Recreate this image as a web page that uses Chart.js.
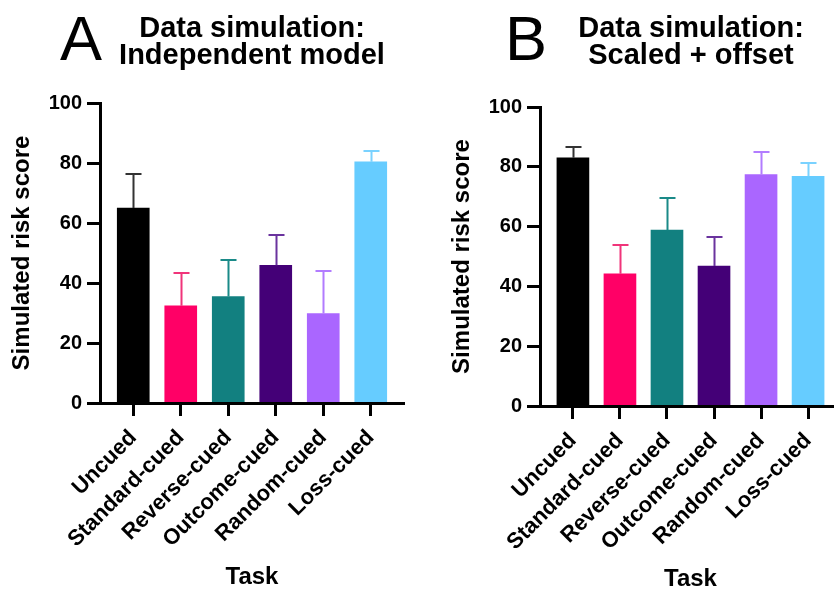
<!DOCTYPE html>
<html>
<head>
<meta charset="utf-8">
<title>Data simulation</title>
<script src="https://cdn.jsdelivr.net/npm/chart.js@4.4.1/dist/chart.umd.min.js"></script>
<style>
  html, body { margin: 0; padding: 0; background: #ffffff; overflow: hidden; }
  body { width: 834px; height: 592px; position: relative; }
  canvas { position: absolute; top: 0; }
  #panelA { left: 0; }
  #panelB { left: 417px; }
</style>
</head>
<body>
<canvas id="panelA" width="417" height="592"></canvas>
<canvas id="panelB" width="430" height="592"></canvas>
<script>
// Task conditions on the x axis
const tasks = ['Uncued', 'Standard-cued', 'Reverse-cued', 'Outcome-cued', 'Random-cued', 'Loss-cued'];

// Panel A: independent model (mean and upper error)
const independentMeans  = [65.0, 32.4, 35.5, 45.9, 29.8, 80.4];
const independentErrors = [11.2, 11.0, 12.3, 10.0, 14.3, 3.5];

// Panel B: scaled + offset model (mean and upper error)
const scaledMeans  = [83.0, 44.2, 58.8, 46.8, 77.4, 76.8];
const scaledErrors = [3.6, 9.5, 10.9, 9.8, 7.4, 4.6];

// Y axis ticks
const yTicks = [0, 20, 40, 60, 80, 100];

// One colour per task, plus a matching tone for its error bar
const barColors   = ['#000000', '#ff0066', '#128080', '#440077', '#aa66ff', '#66ccff'];
const errorColors = ['#333333', '#f0347a', '#1a8a88', '#6a339e', '#b27cff', '#7ad2ff'];

const FONT = "'Liberation Sans', Arial, Helvetica, sans-serif";

// Upward error whiskers with a cap, positioned through the chart's scales
const errorBars = {
  id: 'errorBars',
  afterDatasetsDraw(chart, args, opts) {
    const { ctx, scales: { x, y } } = chart;
    const data = chart.data.datasets[0].data;
    ctx.save();
    ctx.lineWidth = 2;
    data.forEach((pt, i) => {
      const px = Math.round(x.getPixelForValue(pt.x)) + 0.5;
      const base = y.getPixelForValue(pt.y);
      const top = Math.round(y.getPixelForValue(pt.y + opts.errors[i]));
      ctx.strokeStyle = opts.colors[i];
      ctx.beginPath();
      ctx.moveTo(px, base);
      ctx.lineTo(px, top);
      ctx.moveTo(px - 8, top);
      ctx.lineTo(px + 8, top);
      ctx.stroke();
    });
    ctx.restore();
  }
};

// Big panel letter next to a two-line bold heading
const panelHeading = {
  id: 'panelHeading',
  afterDraw(chart, args, opts) {
    const ctx = chart.ctx;
    ctx.save();
    ctx.fillStyle = '#000000';
    ctx.textBaseline = 'alphabetic';
    ctx.textAlign = 'left';
    ctx.font = `63px ${FONT}`;
    ctx.fillText(opts.letter, opts.letterX, 60);
    ctx.textAlign = 'center';
    ctx.font = `bold 29px ${FONT}`;
    opts.lines.forEach((line, i) => ctx.fillText(line, opts.centerX, 37 + i * 26.5));
    ctx.restore();
  }
};

function makePanel(canvasId, means, errors, heading, geom) {
  return new Chart(document.getElementById(canvasId), {
    type: 'bar',
    data: {
      datasets: [{
        data: tasks.map((t, i) => ({ x: i, y: means[i] })),
        backgroundColor: barColors,
        borderWidth: 0,
        barThickness: 32
      }]
    },
    options: {
      responsive: false,
      animation: false,
      events: [],
      layout: { padding: { top: geom.top, left: geom.left, right: geom.right, bottom: 0 } },
      plugins: {
        legend: { display: false },
        tooltip: { enabled: false },
        errorBars: { errors: errors, colors: errorColors },
        panelHeading: heading
      },
      scales: {
        x: {
          type: 'linear',
          min: -0.7,
          max: 5.7,
          offset: false,
          afterFit: s => { s.height = geom.xHeight; },
          afterBuildTicks: s => { s.ticks = tasks.map((t, i) => ({ value: i })); },
          grid: {
            display: true, offset: false, drawOnChartArea: false, drawTicks: true,
            tickLength: 13, tickWidth: 3, tickColor: '#000000'
          },
          border: { display: true, color: '#000000', width: 3, z: 1 },
          ticks: {
            autoSkip: false, minRotation: 45, maxRotation: 45, padding: 9,
            color: '#000000', font: { family: FONT, size: 22, weight: 'bold' },
            callback: v => tasks[v]
          },
          title: {
            display: true, text: 'Task', color: '#000000',
            font: { family: FONT, size: 24, weight: 'bold' },
            padding: { top: 4, bottom: geom.xTitlePad }
          }
        },
        y: {
          min: 0,
          max: 100,
          afterFit: s => { s.width = geom.yWidth; },
          afterBuildTicks: s => { s.ticks = yTicks.map(v => ({ value: v })); },
          grid: {
            display: true, drawOnChartArea: false, drawTicks: true,
            tickLength: 13, tickWidth: 3, tickColor: '#000000'
          },
          border: { display: true, color: '#000000', width: 3, z: 1 },
          ticks: {
            padding: 5, color: '#000000',
            font: { family: FONT, size: 20, weight: 'bold' }
          },
          title: {
            display: true, text: 'Simulated risk score', color: '#000000',
            font: { family: FONT, size: 24, weight: 'bold' },
            padding: { top: geom.yTitlePad, bottom: 4 }
          }
        }
      }
    },
    plugins: [errorBars, panelHeading]
  });
}

makePanel('panelA', independentMeans, independentErrors,
  { letter: 'A', letterX: 60, lines: ['Data simulation:', 'Independent model'], centerX: 252 },
  { top: 103, left: 0, right: 13, xHeight: 189, yWidth: 100, yTitlePad: 8, xTitlePad: 0 });

makePanel('panelB', scaledMeans, scaledErrors,
  { letter: 'B', letterX: 88, lines: ['Data simulation:', 'Scaled + offset'], centerX: 274 },
  { top: 107, left: 0, right: 6, xHeight: 186, yWidth: 123, yTitlePad: 31, xTitlePad: -2 });
</script>
</body>
</html>
